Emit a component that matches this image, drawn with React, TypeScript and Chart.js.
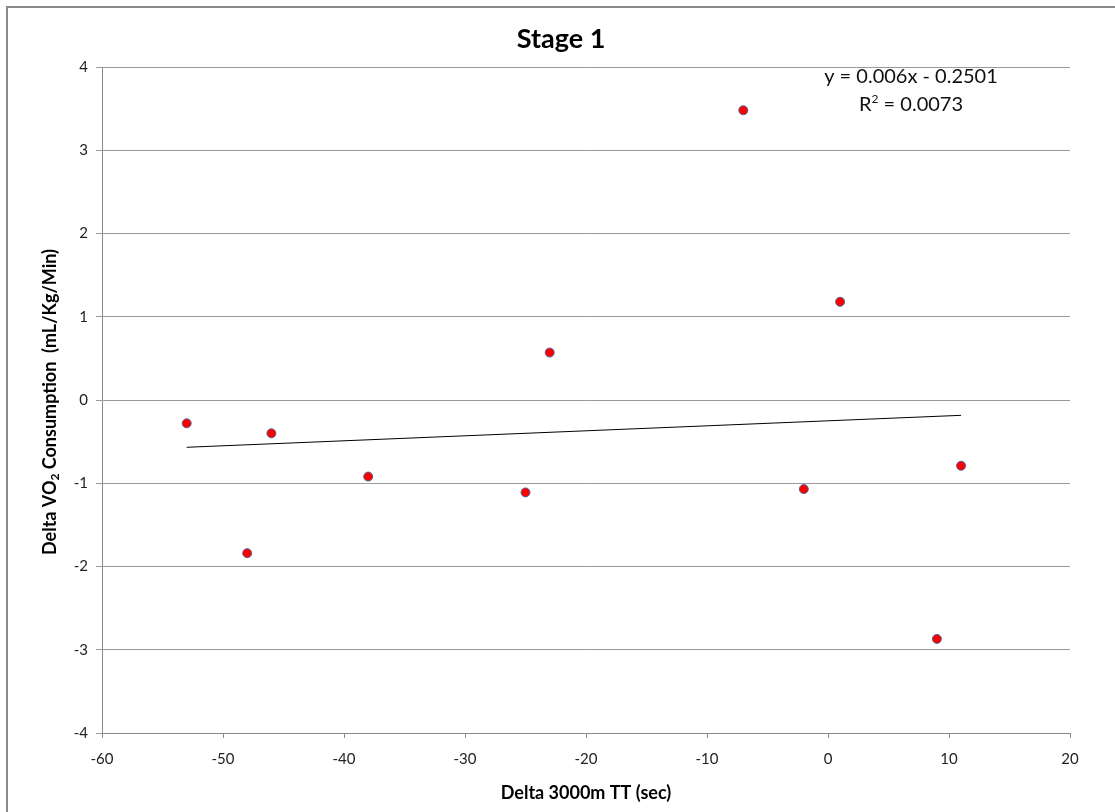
import React, { useEffect, useRef } from "react";
import { Chart, registerables } from "chart.js";

Chart.register(...registerables);

// Change in 3000 m time-trial (sec) vs change in VO2 consumption (mL/Kg/Min)
const timeTrialDelta = [-53, -48, -46, -38, -25, -23, -7, -2, 1, 9, 11];
const vo2Delta = [-0.28, -1.84, -0.4, -0.92, -1.11, 0.57, 3.48, -1.07, 1.18, -2.87, -0.79];

// Linear fit shown on the chart
const fitSlope = 0.006;
const fitIntercept = -0.2501;
const fitLabel = "y = 0.006x - 0.2501";
const r2Value = "0.0073";

const xTicks = [-60, -50, -40, -30, -20, -10, 0, 10, 20];
const yTicks = [-4, -3, -2, -1, 0, 1, 2, 3, 4];

const FONT = "Lato, 'Open Sans', sans-serif";

const decorations = {
  id: "decorations",
  afterDraw(chart: Chart) {
    const { ctx } = chart;
    ctx.save();
    // outer frame
    ctx.strokeStyle = "#8a8a8a";
    ctx.lineWidth = 2;
    ctx.beginPath();
    ctx.moveTo(7, 812);
    ctx.lineTo(7, 7);
    ctx.lineTo(1115, 7);
    ctx.stroke();

    ctx.fillStyle = "#000";
    ctx.textAlign = "center";
    ctx.textBaseline = "middle";

    // title
    ctx.font = `bold 27px ${FONT}`;
    ctx.fillText("Stage 1", 561, 39);

    // x axis title
    ctx.font = `bold 18px ${FONT}`;
    ctx.fillText("Delta 3000m TT (sec)", 586, 793);

    // y axis title with subscript
    ctx.save();
    ctx.translate(50, 402);
    ctx.rotate(-Math.PI / 2);
    const p1 = "Delta VO";
    const p2 = "2";
    const p3 = " Consumption  (mL/Kg/Min)";
    ctx.font = `bold 18px ${FONT}`;
    const w1 = ctx.measureText(p1).width;
    const w3 = ctx.measureText(p3).width;
    ctx.font = `bold 12px ${FONT}`;
    const w2 = ctx.measureText(p2).width;
    const total = w1 + w2 + w3;
    let x = -total / 2;
    ctx.textAlign = "left";
    ctx.font = `bold 18px ${FONT}`;
    ctx.fillText(p1, x, 0);
    x += w1;
    ctx.font = `bold 12px ${FONT}`;
    ctx.fillText(p2, x, 5);
    x += w2;
    ctx.font = `bold 18px ${FONT}`;
    ctx.fillText(p3, x, 0);
    ctx.restore();

    // fit equation
    ctx.textAlign = "center";
    ctx.font = `20px ${FONT}`;
    ctx.fillStyle = "#111";
    ctx.fillText(fitLabel, 911, 77);
    const a = "R";
    const b = "2";
    const c = " = " + r2Value;
    const wa = ctx.measureText(a).width;
    const wc = ctx.measureText(c).width;
    ctx.font = `12px ${FONT}`;
    const wb = ctx.measureText(b).width;
    let rx = 911 - (wa + wb + wc) / 2;
    ctx.textAlign = "left";
    ctx.font = `20px ${FONT}`;
    ctx.fillText(a, rx, 105);
    rx += wa;
    ctx.font = `12px ${FONT}`;
    ctx.fillText(b, rx, 99);
    rx += wb;
    ctx.font = `20px ${FONT}`;
    ctx.fillText(c, rx, 105);
    ctx.restore();
  },
};

export default function App() {
  const ref = useRef<HTMLCanvasElement | null>(null);

  useEffect(() => {
    if (!ref.current) return;
    const xMin = timeTrialDelta[0];
    const xMax = timeTrialDelta[timeTrialDelta.length - 1];
    const chart = new Chart(ref.current, {
      type: "scatter",
      data: {
        datasets: [
          {
            type: "line",
            label: "Linear fit",
            data: [
              { x: xMin, y: fitSlope * xMin + fitIntercept },
              { x: xMax, y: fitSlope * xMax + fitIntercept },
            ],
            borderColor: "#000",
            borderWidth: 1,
            pointRadius: 0,
            fill: false,
            order: 2,
          },
          {
            label: "Delta VO2",
            data: timeTrialDelta.map((x, i) => ({ x, y: vo2Delta[i] })),
            backgroundColor: "#ff0000",
            borderColor: "#4f63a0",
            borderWidth: 1,
            pointRadius: 4.5,
            order: 1,
          },
        ],
      },
      options: {
        animation: false,
        responsive: false,
        layout: { padding: { left: 0, top: 67, right: 45, bottom: 0 } },
        plugins: {
          legend: { display: false },
          tooltip: { enabled: false },
          title: { display: false },
        },
        scales: {
          x: {
            type: "linear",
            min: -60,
            max: 20,
            afterBuildTicks: (s: any) => {
              s.ticks = xTicks.map((v) => ({ value: v }));
            },
            afterFit: (s: any) => {
              s.height = 79;
            },
            grid: {
              drawOnChartArea: false,
              drawTicks: true,
              tickLength: 5,
              color: "#8a8a8a",
            },
            border: { color: "#8a8a8a", width: 1 },
            ticks: {
              color: "#222",
              font: { family: FONT, size: 15 },
              padding: 12,
              maxRotation: 0,
            },
          },
          y: {
            type: "linear",
            min: -4,
            max: 4,
            afterBuildTicks: (s: any) => {
              s.ticks = yTicks.map((v) => ({ value: v }));
            },
            afterFit: (s: any) => {
              s.width = 102;
            },
            grid: {
              color: "#9a9a9a",
              tickLength: 6,
              drawTicks: true,
            },
            border: { color: "#8a8a8a", width: 1 },
            ticks: {
              color: "#222",
              font: { family: FONT, size: 15 },
              padding: 8,
            },
          },
        },
      },
      plugins: [decorations],
    });
    return () => chart.destroy();
  }, []);

  return (
    <div style={{ position: "fixed", left: 0, top: 0, width: 1115, height: 812, background: "#fff" }}>
      <canvas ref={ref} width={1115} height={812} style={{ display: "block" }} />
    </div>
  );
}
